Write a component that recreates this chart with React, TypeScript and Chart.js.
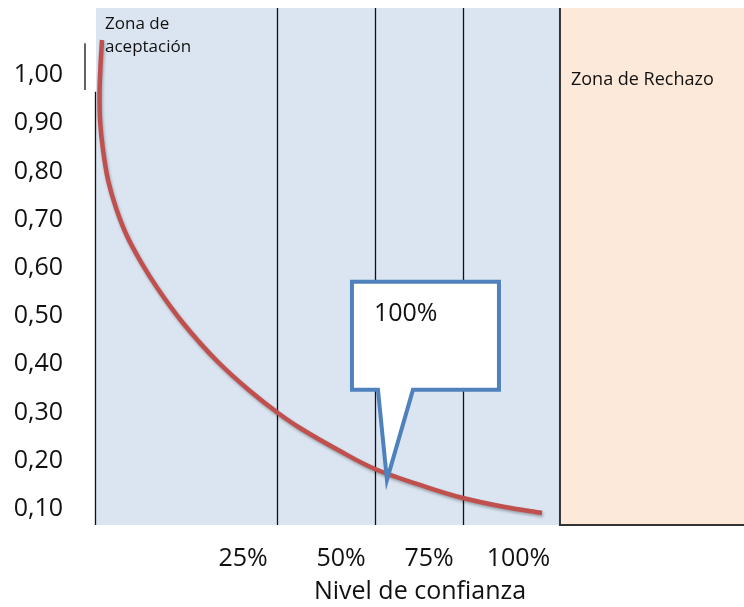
import React, { useEffect, useRef } from "react";
import { Chart, registerables } from "chart.js";

Chart.register(...registerables);

// Curve (x in abstract horizontal units 0–100, y = probability)
const curveX = [0.926, 0.694, 0.54, 0.617, 1.08, 1.852, 3.086, 4.784, 6.944, 9.568, 13.426, 18.673, 23.765, 28.086, 31.481, 37.654, 43.056, 50.0, 56.636, 63.117, 68.827];
const curveY = [1.0726, 1.0207, 0.9585, 0.9066, 0.8444, 0.7822, 0.7241, 0.666, 0.612, 0.556, 0.4855, 0.4066, 0.3444, 0.2988, 0.2676, 0.2199, 0.1826, 0.1494, 0.1224, 0.1037, 0.0913];

const yTickValues = [0.1, 0.2, 0.3, 0.4, 0.5, 0.6, 0.7, 0.8, 0.9, 1.0];
const xTickPositions = [22.69, 37.81, 51.39, 65.2];
const xTickLabels = ["25%", "50%", "75%", "100%"];
const confidenceLines = [27.93, 43.06, 56.64];
const zoneBoundary = 71.6;
const acceptLabel = ["Zona de", "aceptación"];
const rejectLabel = "Zona de Rechazo";
const calloutText = "100%";
const calloutPoint = { x: 44.9, y: 0.16 };

const FONT = "'Open Sans', 'Noto Sans', sans-serif";
const TEXT = "#111";

const decorPlugin = {
  id: "decor",
  beforeDatasetsDraw(chart: any) {
    const { ctx, chartArea, scales } = chart;
    const xs = scales.x;
    const ys = scales.y;
    const bx = xs.getPixelForValue(zoneBoundary);
    ctx.save();
    ctx.fillStyle = "#dbe5f1";
    ctx.fillRect(chartArea.left, chartArea.top, bx - chartArea.left, chartArea.bottom - 1 - chartArea.top);
    ctx.fillStyle = "#fde9d9";
    ctx.fillRect(bx, chartArea.top, chartArea.right - bx, chartArea.bottom - chartArea.top);

    // vertical lines
    ctx.strokeStyle = "#111";
    ctx.lineWidth = 1.3;
    confidenceLines.forEach((v) => {
      const px = Math.round(xs.getPixelForValue(v)) + 0.5;
      ctx.beginPath();
      ctx.moveTo(px, chartArea.top);
      ctx.lineTo(px, chartArea.bottom - 1);
      ctx.stroke();
    });
    // left border of acceptance zone
    const lx = chartArea.left - 0.5;
    ctx.beginPath();
    ctx.moveTo(lx, ys.getPixelForValue(0.965));
    ctx.lineTo(lx, chartArea.bottom - 1);
    ctx.stroke();
    // short axis stub
    const sx = xs.getPixelForValue(-1.7);
    ctx.beginPath();
    ctx.moveTo(sx, ys.getPixelForValue(1.066));
    ctx.lineTo(sx, ys.getPixelForValue(0.969));
    ctx.stroke();

    // zone boundary & rejection border
    ctx.strokeStyle = "#333";
    ctx.lineWidth = 2;
    ctx.beginPath();
    ctx.moveTo(bx, chartArea.top);
    ctx.lineTo(bx, chartArea.bottom - 1);
    ctx.lineTo(chartArea.right, chartArea.bottom - 1);
    ctx.stroke();

    // zone labels
    ctx.fillStyle = TEXT;
    ctx.font = `17px ${FONT}`;
    ctx.textAlign = "left";
    ctx.textBaseline = "middle";
    ctx.fillText(acceptLabel[0], chartArea.left + 9, chartArea.top + 16);
    ctx.fillText(acceptLabel[1], chartArea.left + 9, chartArea.top + 39);
    ctx.font = `18px ${FONT}`;
    ctx.fillText(rejectLabel, bx + 11, chartArea.top + 72);
    ctx.restore();
  },
  beforeDatasetDraw(chart: any) {
    const ctx = chart.ctx;
    ctx.save();
    ctx.shadowColor = "rgba(0,0,0,0.3)";
    ctx.shadowBlur = 3;
    ctx.shadowOffsetY = 2;
    ctx.shadowOffsetX = 1;
  },
  afterDatasetDraw(chart: any) {
    chart.ctx.restore();
  },
  afterDatasetsDraw(chart: any) {
    const { ctx, scales } = chart;
    const tx = scales.x.getPixelForValue(calloutPoint.x);
    const ty = scales.y.getPixelForValue(calloutPoint.y);
    const left = tx - 35;
    const right = tx + 112;
    const top = ty - 198;
    const bottom = ty - 90;
    ctx.save();
    ctx.beginPath();
    ctx.moveTo(left, top);
    ctx.lineTo(right, top);
    ctx.lineTo(right, bottom);
    ctx.lineTo(tx + 26, bottom);
    ctx.lineTo(tx, ty);
    ctx.lineTo(tx - 9, bottom);
    ctx.lineTo(left, bottom);
    ctx.closePath();
    ctx.fillStyle = "#ffffff";
    ctx.fill();
    ctx.strokeStyle = "#4f81bd";
    ctx.lineWidth = 4;
    ctx.lineJoin = "miter";
    ctx.stroke();
    ctx.fillStyle = TEXT;
    ctx.font = `25px ${FONT}`;
    ctx.textAlign = "left";
    ctx.textBaseline = "middle";
    ctx.fillText(calloutText, left + 22, top + 32);
    ctx.restore();
  },
};

export default function App() {
  const ref = useRef<HTMLCanvasElement | null>(null);
  useEffect(() => {
    if (!ref.current) return;
    const chart = new Chart(ref.current, {
      type: "line",
      data: {
        datasets: [
          {
            data: curveX.map((x, i) => ({ x, y: curveY[i] })),
            borderColor: "#c0504d",
            borderWidth: 4.5,
            pointRadius: 0,
            cubicInterpolationMode: "monotone",
            fill: false,
          },
        ],
      },
      options: {
        animation: false,
        responsive: true,
        maintainAspectRatio: false,
        indexAxis: "y",
        layout: { padding: { top: 8, left: 0, right: 0, bottom: 0 } },
        plugins: { legend: { display: false }, tooltip: { enabled: false } },
        scales: {
          x: {
            type: "linear",
            min: 0,
            max: 100,
            grid: { display: false, drawTicks: false },
            border: { display: false },
            afterBuildTicks: (s: any) => {
              s.ticks = xTickPositions.map((v) => ({ value: v }));
            },
            afterFit: (s: any) => {
              s.height = 81;
              s.paddingLeft = 0;
              s.paddingRight = 0;
            },
            ticks: {
              autoSkip: false,
              maxRotation: 0,
              padding: 18,
              color: TEXT,
              font: { family: FONT, size: 25 },
              callback: (_v: any, i: number) => xTickLabels[i],
            },
            title: {
              display: true,
              text: "Nivel de confianza",
              color: TEXT,
              font: { family: FONT, size: 25 },
              padding: { top: 0, bottom: 0 },
            },
          },
          y: {
            type: "linear",
            min: 0.0643,
            max: 1.139,
            grid: { display: false, drawTicks: false },
            border: { display: false },
            afterBuildTicks: (s: any) => {
              s.ticks = yTickValues.map((v) => ({ value: v }));
            },
            afterFit: (s: any) => {
              s.width = 96;
              s.paddingTop = 0;
              s.paddingBottom = 0;
            },
            ticks: {
              padding: 33,
              color: TEXT,
              font: { family: FONT, size: 25 },
              callback: (v: any) => Number(v).toFixed(2).replace(".", ","),
            },
          },
        },
      },
      plugins: [decorPlugin],
    });
    return () => chart.destroy();
  }, []);
  return (
    <div style={{ position: "fixed", left: 0, top: 0, width: 744, height: 607, background: "#fff" }}>
      <canvas ref={ref} />
    </div>
  );
}
